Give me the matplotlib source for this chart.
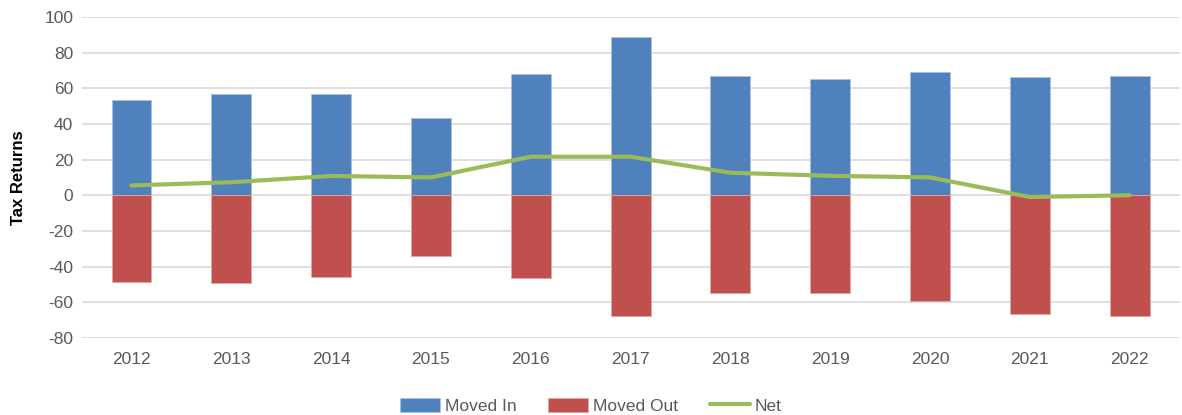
import numpy as np
import matplotlib.pyplot as plt

# ── Data ──────────────────────────────────────────────────────────────────
years = ["2012", "2013", "2014", "2015", "2016", "2017",
         "2018", "2019", "2020", "2021", "2022"]
moved_in = [53.5, 57, 57, 43.5, 68, 89, 67, 65.3, 69, 66.3, 67]
moved_out = [-48.5, -49.5, -45.7, -34, -46.7, -67.5, -55, -55, -59.5, -66.8, -67.5]
net = [5.5, 7.3, 10.8, 10, 21.6, 21.6, 12.6, 10.9, 10, -1, 0]

plt.rcParams["font.family"] = ["Liberation Sans", "DejaVu Sans"]
plt.rcParams["axes.unicode_minus"] = False

fig = plt.figure(figsize=(11.82, 4.15), dpi=100)
ax = fig.add_axes([0.069, 0.186, 0.929, 0.773])

x = np.arange(len(years))
b_in = ax.bar(x, moved_in, width=0.4, color="#4F81BD", edgecolor="#A9C0DE",
              linewidth=0.6, label="Moved In", zorder=2)
b_out = ax.bar(x, moved_out, width=0.4, color="#C0504D", edgecolor="#E0A8A6",
               linewidth=0.6, label="Moved Out", zorder=2)
l_net, = ax.plot(x, net, color="#9BBB59", linewidth=3, label="Net", zorder=3,
                 solid_capstyle="round")

ax.set_xlim(-0.5, len(years) - 0.5)
ax.set_ylim(-80, 100)
ax.set_yticks(range(-80, 101, 20))
ax.set_xticks(x)
ax.set_xticklabels(years)
ax.tick_params(length=0, labelsize=12.5, colors="#595959", pad=10)
ax.tick_params(axis="y", pad=6)
ax.grid(axis="y", color="#D9D9D9", linewidth=1.2, zorder=0)
ax.set_axisbelow(True)
for s in ax.spines.values():
    s.set_visible(False)

ax.set_ylabel("Tax Returns", fontsize=12, fontweight="bold", labelpad=13)

fig.legend([b_in, b_out, l_net], ["Moved In", "Moved Out", "Net"],
           loc="lower center", bbox_to_anchor=(0.5, -0.035), ncol=3,
           frameon=False, fontsize=12.5, handlelength=2.3, handleheight=0.9,
           columnspacing=1.8, handletextpad=0.3, labelcolor="#595959")

fig.savefig("out.png", dpi=100)
